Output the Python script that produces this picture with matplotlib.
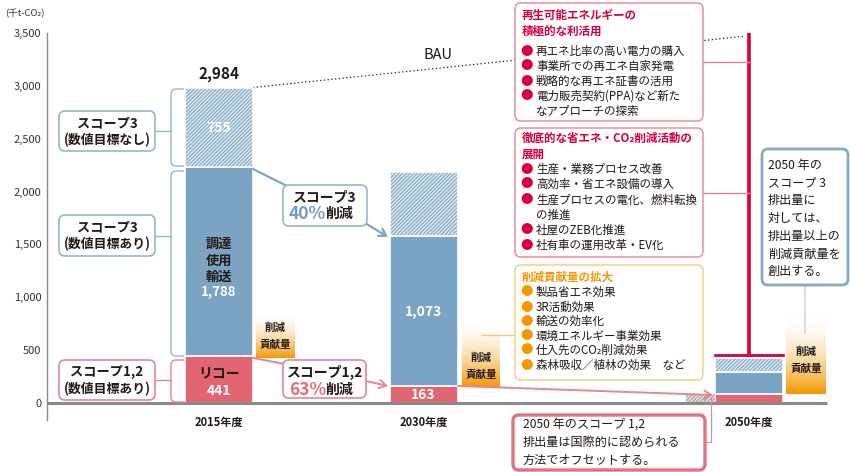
import numpy as np
import matplotlib
matplotlib.use('Agg')
import matplotlib.pyplot as plt
from matplotlib.patches import FancyBboxPatch, PathPatch, FancyArrowPatch
from matplotlib.path import Path
from matplotlib.transforms import Affine2D
from matplotlib.colors import to_rgb

plt.rcParams['font.family'] = ['Noto Sans CJK JP', 'DejaVu Sans']
plt.rcParams['hatch.color'] = 'white'
plt.rcParams['hatch.linewidth'] = 0.6

# ---------------- data ----------------
years = ['2015年度', '2030年度', '2050年度']
scope12 = [441, 163, 85]               # bar heights (red)
scope3_target = [1788, 1420, 205]      # bar heights (blue)
scope3_notarget = [755, 605, 140]      # bar heights (hatched)
scope12_labels = ['441', '163', '']
scope3_labels = ['1,788', '1,073', '']
notarget_labels = ['755', '', '']
total_2015_label = '2,984'
contrib_bottom = [426, 151, 85]
contrib_top = [851, 785, 832]
bau_start, bau_end = 2984, 3470
offset_2050 = 85
cap_2050 = 455
yticks = [0, 500, 1000, 1500, 2000, 2500, 3000, 3500]

# ---------------- colours ----------------
DARK = '#231815'
BLUE = '#7ba3c3'
RED = '#e26672'
HATCH_BG = '#92b4cf'
LBLUE = '#93b6d1'
PINK = '#e88593'
CRIMSON = '#d7003a'
ORANGE = '#f39800'
ORANGE_B = '#f6c97f'

fig = plt.figure(figsize=(8.5, 4.72), dpi=100)
P = Affine2D().scale(1 / 850, -1 / 472).translate(0, 1) + fig.transFigure

ax = fig.add_axes([47 / 850, (472 - 420) / 472, (850 - 47) / 850, (420 - 33) / 472])
xc = [219, 423.5, 749]
bw = 68

# bars
ax.bar(xc, scope12, width=bw, color=RED, edgecolor='white', linewidth=1.2, zorder=3)
ax.bar(xc, scope3_target, width=bw, bottom=scope12, color=BLUE, edgecolor='white',
       linewidth=1.2, zorder=3)
b2 = [a + b for a, b in zip(scope12, scope3_target)]
ax.bar(xc, scope3_notarget, width=bw, bottom=b2, color=HATCH_BG, hatch='/' * 9,
       edgecolor='white', linewidth=1.2, zorder=3)
# grey offset hatched
ax.bar([700.5], [offset_2050], width=29, color='#adadad', hatch='/' * 9,
       edgecolor='white', linewidth=0, zorder=3)

# 2050 cap and vertical line
ax.plot([xc[2] - bw / 2, xc[2] + bw / 2], [cap_2050, cap_2050], color=CRIMSON, lw=2, zorder=4)
ax.plot([xc[2], xc[2]], [cap_2050, 3500], color=CRIMSON, lw=2.6, zorder=4)

# contribution gradient boxes
cx0 = [256, 462, 786]
cx1 = [295, 500, 826]
t = np.linspace(0, 1, 200)[:, None]
f = np.clip(t, 0, 1) ** 1.8
w = np.array([1, 1, 1.0])
o = np.array(to_rgb(ORANGE))
grad = (1 - f)[..., None] * w + f[..., None] * o
grad = np.repeat(grad, 2, axis=1)
for x0, x1, b, tp in zip(cx0, cx1, contrib_bottom, contrib_top):
    ax.imshow(grad, extent=(x0, x1, b, tp), aspect='auto', origin='upper', zorder=2)

# BAU dotted
ax.plot([xc[0] + bw / 2, 745], [bau_start, bau_end], color=DARK, lw=0.9, ls=(0, (1, 2)), zorder=2)

# baseline
ax.plot([47, 827], [0, 0], color='#8a8a8a', lw=2.2, zorder=5, solid_capstyle='butt', clip_on=False)

ax.set_xlim(47, 850)
ax.set_ylim((403 - 420) / (370 / 3500), 3500)
ax.set_yticks(yticks)
ax.set_yticklabels([f'{v:,}' for v in yticks], fontsize=8, color='#333333')
ax.tick_params(axis='y', length=0, pad=4)
ax.set_xticks([])
for s in ['top', 'right', 'bottom']:
    ax.spines[s].set_visible(False)
ax.spines['left'].set_color('#8a8a8a')
ax.spines['left'].set_linewidth(1.0)
ax.patch.set_alpha(0)


# ---------------- helpers ----------------
def T(x, y, s, size=8.2, color=DARK, weight='normal', ha='left', va='center', z=10):
    fig.text(x, y, s, transform=P, fontsize=size, color=color, fontweight=weight,
             ha=ha, va=va, zorder=z)


def rbox(x0, y0, x1, y1, ec, lw=1.0, r=6, z=6):
    p = FancyBboxPatch((x0, y0), x1 - x0, y1 - y0, boxstyle=f'round,pad=0,rounding_size={r}',
                       transform=P, fc='white', ec=ec, lw=lw, zorder=z)
    fig.add_artist(p)


def line(pts, color, lw=1.0, z=5, ls='-'):
    xs, ys = zip(*pts)
    l = matplotlib.lines.Line2D(xs, ys, transform=P, color=color, lw=lw, zorder=z, ls=ls)
    fig.add_artist(l)


def arrow(a, b, color, lw=1.3, z=5):
    ar = FancyArrowPatch(a, b, transform=P, arrowstyle='->,head_length=5,head_width=3',
                         color=color, lw=lw, zorder=z, shrinkA=0, shrinkB=0)
    fig.add_artist(ar)


def bracket(top, bottom, color, xl=171, xr=184, r=5):
    verts = [(xr, top), (xl + r, top), (xl, top), (xl, top + r), (xl, bottom - r),
             (xl, bottom), (xl + r, bottom), (xr, bottom)]
    codes = [Path.MOVETO, Path.LINETO, Path.CURVE3, Path.CURVE3, Path.LINETO,
             Path.CURVE3, Path.CURVE3, Path.LINETO]
    fig.add_artist(PathPatch(Path(verts, codes), transform=P, fc='none', ec=color, lw=1.0, zorder=5))


# ---------------- axis texts ----------------
T(5, 14, '(千t-CO₂)', size=6.8, color='#333333')
for x, lab in zip(xc, years):
    T(x, 422, lab, size=8, weight='bold', ha='center')
T(xc[0], 74, total_2015_label, size=11, weight='bold', ha='center')
T(424, 55, 'BAU', size=10.5)

# bar texts
T(xc[0], 128, notarget_labels[0], size=10, color='white', weight='bold', ha='center')
for i, s in enumerate(['調達', '使用', '輸送']):
    T(xc[0], 244 + 16.5 * i, s, size=9.5, weight='bold', ha='center')
T(xc[0], 292, scope3_labels[0], size=9.5, color='white', weight='bold', ha='center')
T(xc[0], 373, 'リコー', size=10, weight='bold', ha='center')
T(xc[0], 391, scope12_labels[0], size=10, color='white', weight='bold', ha='center')
T(xc[1], 312, scope3_labels[1], size=10, color='white', weight='bold', ha='center')
T(xc[1], 395, scope12_labels[1], size=10, color='white', weight='bold', ha='center')

# contribution labels
for x0, x1, ya in zip(cx0, cx1, [328, 358, 352]):
    T((x0 + x1) / 2, ya, '削減', size=7.6, weight='bold', ha='center')
    T((x0 + x1) / 2, ya + 17, '貢献量', size=7.6, weight='bold', ha='center')

# ---------------- left labels ----------------
bracket(89, 166, LBLUE)
bracket(171, 356, LBLUE)
bracket(360, 402, PINK)
line([(155, 131), (171, 131)], LBLUE)
line([(155, 236), (171, 236)], LBLUE)
line([(155, 380), (171, 380)], PINK)
rbox(59, 111, 155, 151, LBLUE, lw=1.2)
T(107, 123, 'スコープ3', size=9.5, weight='bold', ha='center')
T(107, 140, '(数値目標なし)', size=9.3, weight='bold', ha='center')
rbox(59, 215, 155, 256, LBLUE, lw=1.2)
T(107, 227, 'スコープ3', size=9.5, weight='bold', ha='center')
T(107, 244, '(数値目標あり)', size=9.3, weight='bold', ha='center')
rbox(59, 360, 155, 400, PINK, lw=1.2)
T(107, 372, 'スコープ1,2', size=9.5, weight='bold', ha='center')
T(107, 389, '(数値目標あり)', size=9.3, weight='bold', ha='center')

# ---------------- middle labels / arrows ----------------
line([(253, 169), (287, 186)], '#7da6c6', lw=1.6)
arrow((365, 223), (388, 237), '#7da6c6', lw=1.6)
rbox(283, 185, 367, 226, LBLUE, lw=1.2)
T(325, 197, 'スコープ3', size=10, weight='bold', ha='center')
T(289, 214, '40%', size=12.5, color='#6f9cc0', weight='bold')
T(325, 214, '削減', size=10, weight='bold')

line([(253, 358), (285, 364)], PINK, lw=1.4)
arrow((366, 381), (388, 386), PINK, lw=1.4)
arrow((458, 386), (713, 395), PINK, lw=1.4)
rbox(283, 360, 366, 398, PINK, lw=1.2)
T(325, 372, 'スコープ1,2', size=10, weight='bold', ha='center')
T(289, 390, '63%', size=12.5, color='#e56b78', weight='bold')
T(325, 390, '削減', size=10, weight='bold')

# ---------------- right boxes ----------------
line([(703, 62), (749, 62)], PINK, lw=1.0, z=4)
line([(703, 193), (749, 193)], PINK, lw=1.0, z=4)
line([(482, 335), (515, 335)], ORANGE_B, lw=1.0, z=4)
line([(805, 285), (805, 333)], '#c9d9e6', lw=1.2, z=4)
line([(705, 442), (711, 442), (711, 398)], PINK, lw=0.8, z=4)


def bullets(x_dot, x_txt, ys, items, dot_color):
    for y, s in zip(ys, items):
        if s.startswith(' '):
            T(x_txt, y, s.strip(), size=8.3)
        else:
            T(x_dot, y, '●', size=9, color=dot_color, ha='center')
            T(x_txt, y, s, size=8.3)


rbox(515, 3, 703, 121, PINK, lw=1.0)
T(522, 15, '再生可能エネルギーの', size=8.3, color=CRIMSON, weight='bold')
T(522, 31, '積極的な利活用', size=8.3, color=CRIMSON, weight='bold')
bullets(527, 536, [51, 66, 81, 96, 111],
        ['再エネ比率の高い電力の購入', '事業所での再エネ自家発電', '戦略的な再エネ証書の活用',
         '電力販売契約(PPA)など新た', ' なアプローチの探索'], CRIMSON)

rbox(515, 128, 703, 257, PINK, lw=1.0)
T(522, 138, '徹底的な省エネ・CO₂削減活動の', size=8.3, color=CRIMSON, weight='bold')
T(522, 154, '展開', size=8.3, color=CRIMSON, weight='bold')
bullets(527, 536, [169, 184, 200, 215, 230, 245],
        ['生産・業務プロセス改善', '高効率・省エネ設備の導入', '生産プロセスの電化、燃料転換',
         ' の推進', '社屋のZEB化推進', '社有車の運用改革・EV化'], CRIMSON)

rbox(515, 265, 703, 380, ORANGE_B, lw=1.0)
T(522, 277, '削減貢献量の拡大', size=8.3, color=ORANGE, weight='bold')
bullets(527, 536, [292, 307, 321, 336, 350, 365],
        ['製品省エネ効果', '3R活動効果', '輸送の効率化', '環境エネルギー事業効果',
         '仕入先のCO₂削減効果', '森林吸収／植林の効果　など'], ORANGE)

rbox(762, 149, 848, 285, '#86a9c6', lw=2.0)
for i, s in enumerate(['2050 年の', 'スコープ 3', '排出量に', '対しては、', '排出量以上の',
                       '削減貢献量を', '創出する。']):
    T(768, 165 + 17.8 * i, s, size=8.7)

rbox(513, 415, 705, 470, '#e5707e', lw=2.4)
for i, s in enumerate(['2050 年のスコープ 1,2', '排出量は国際的に認められる', '方法でオフセットする。']):
    T(523, 424 + 18 * i, s, size=8.7)

fig.savefig('out.png', dpi=100)
